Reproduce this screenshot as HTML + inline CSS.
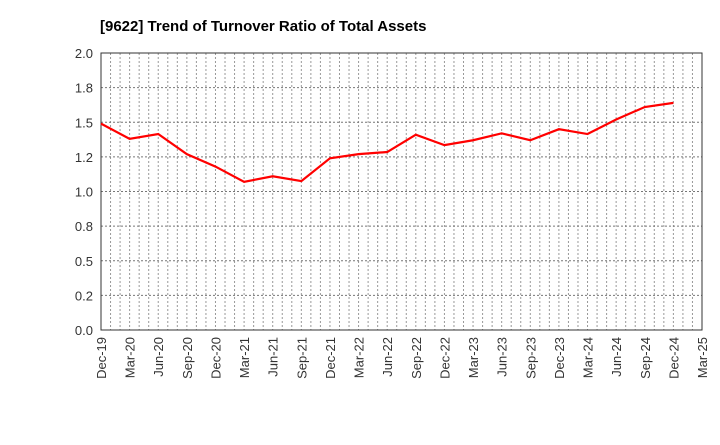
<!DOCTYPE html>
<html><head><meta charset="utf-8"><style>
body{margin:0;background:#fff;font-family:"Liberation Sans",sans-serif;}
</style></head><body>
<svg width="720" height="440" xmlns="http://www.w3.org/2000/svg" id="chart">
<text x="100" y="31" font-size="15" font-weight="bold" font-family="Liberation Sans, sans-serif">[9622]  Trend of Turnover Ratio of Total Assets</text>
<g id="grid"></g><g id="axes"></g><g id="series"></g>
</svg>
<script>
const categories=["Dec-19","Mar-20","Jun-20","Sep-20","Dec-20","Mar-21","Jun-21","Sep-21","Dec-21","Mar-22","Jun-22","Sep-22","Dec-22","Mar-23","Jun-23","Sep-23","Dec-23","Mar-24","Jun-24","Sep-24","Dec-24","Mar-25"];
const values=[1.49,1.38,1.415,1.27,1.18,1.07,1.11,1.075,1.24,1.27,1.285,1.41,1.335,1.37,1.42,1.37,1.45,1.415,1.52,1.61,1.64];
const yTicks=[0,0.25,0.5,0.75,1.0,1.25,1.5,1.75,2.0];
const yTickLabels=["0.0","0.2","0.5","0.8","1.0","1.2","1.5","1.8","2.0"];
const L=101,R=702,T=53,B=330,NS="http://www.w3.org/2000/svg";
const x=i=>L+(R-L)*i/(categories.length-1);
const y=v=>B-(B-T)*v/2.0;
function mk(t,a,p){const e=document.createElementNS(NS,t);for(const k in a)e.setAttribute(k,a[k]);p.appendChild(e);return e;}
const g=document.getElementById('grid'),ax=document.getElementById('axes'),s=document.getElementById('series');
for(let m=1;m<(categories.length-1)*3;m++){const xx=L+(R-L)*m/((categories.length-1)*3);
const l=mk('line',{x1:xx,x2:xx,y1:T,y2:B,stroke:'#999','stroke-dasharray':'2,2','stroke-width':1},g);

}
yTicks.forEach((v,i)=>{if(v>0&&v<2){const l=mk('line',{x1:L,x2:R,y1:y(v),y2:y(v),stroke:'#777','stroke-dasharray':'2,2','stroke-width':1},g);

}
const t=mk('text',{x:L-8,y:y(v)+5,'text-anchor':'end','font-size':13,fill:'#333'},ax);t.textContent=yTickLabels[i];

});
const fr=mk('rect',{x:L,y:T,width:R-L,height:B-T,fill:'none',stroke:'#333','stroke-width':1},ax);


categories.forEach((c,i)=>{const t=mk('text',{transform:`translate(${x(i)+5},${B+7}) rotate(-90)`,'text-anchor':'end','font-size':13,fill:'#333'},ax);t.textContent=c;

});
const p=mk('polyline',{points:values.map((v,i)=>x(i)+','+y(v)).join(' '),fill:'none',stroke:'#f00','stroke-width':2.2},s);


</script>
</body></html>
